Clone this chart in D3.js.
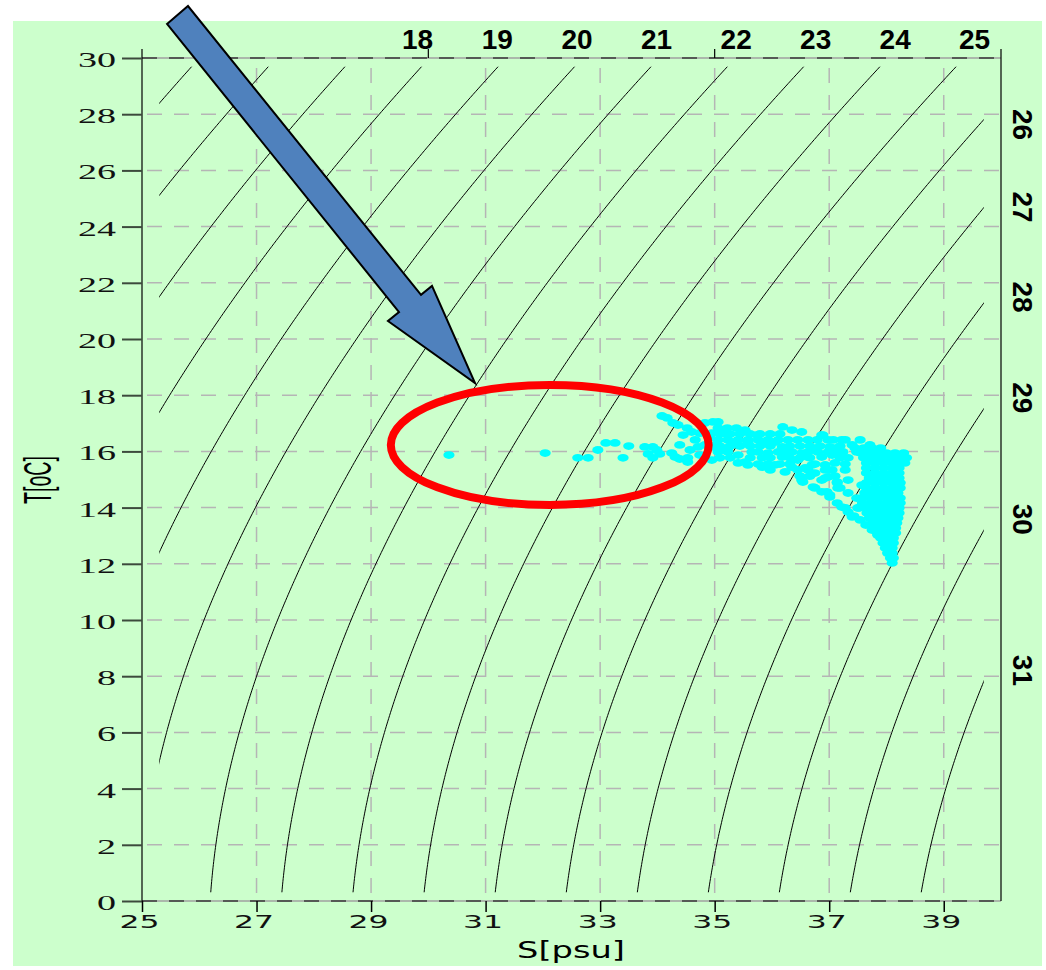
<!DOCTYPE html>
<html>
<head>
<meta charset="utf-8">
<script src="https://cdn.jsdelivr.net/npm/d3@7"></script>
<style>
  body { margin: 0; background: #fff; }
</style>
</head>
<body>
<svg id="chart" width="1046" height="970"></svg>
<script>
// axis ticks
const sTicks = [25, 27, 29, 31, 33, 35, 37, 39];
const tTicks = [0, 2, 4, 6, 8, 10, 12, 14, 16, 18, 20, 22, 24, 26, 28, 30];
const sGrid = [27, 29, 31, 33, 35, 37, 39];
const tGrid = [2, 4, 6, 8, 10, 12, 14, 16, 18, 20, 22, 24, 26, 28];
const topTicks = [30, 35];

// sigma-t isopycnals drawn in the box, and the ones that get a label
const sigmaLevels = [15, 16, 17, 18, 19, 20, 21, 22, 23, 24, 25, 26, 27, 28, 29, 30, 31];
const topLabels = [18, 19, 20, 21, 22, 23, 24, 25];
const rightLabels = [26, 27, 28, 29, 30, 31];

const samples = [
  [30.36, 15.87], [32.04, 15.94], [32.61, 15.77], [32.79, 15.77], [32.96, 16.05], [33.10, 16.30],
  [33.26, 16.30], [33.50, 16.19], [33.78, 16.16], [33.92, 16.16], [33.99, 16.05], [33.84, 15.91],
  [33.92, 15.77], [33.40, 15.77], [34.04, 15.91], [34.25, 15.94], [34.31, 15.80], [34.39, 15.73],
  [34.53, 15.77], [34.53, 15.62], [34.71, 16.16], [34.95, 16.16], [34.95, 16.65],
  [34.08, 17.26], [34.17, 17.19], [34.27, 17.01], [34.36, 16.94], [34.52, 16.83], [34.60, 16.69],
  [34.74, 16.65], [34.83, 17.01], [34.97, 17.05],
  [34.92, 16.48], [35.02, 16.23], [34.83, 15.87], [34.95, 15.69], [35.09, 15.77], [35.23, 16.12],
  [34.45, 16.58], [34.66, 16.41], [34.83, 16.23], [34.57, 16.05], [34.74, 15.87], [34.39, 16.23],
  [36.19, 16.87], [36.35, 16.76], [36.52, 16.69], [36.87, 16.58], [36.79, 16.41], [37.01, 16.16],
  [37.22, 16.41], [35.06, 17.05], [35.13, 16.76], [35.23, 16.58], [35.53, 16.76], [35.74, 16.58],
  [35.58, 16.33], [35.35, 16.30], [35.18, 16.05], [35.41, 15.87], [35.65, 15.98], [35.88, 16.30],
  [36.05, 16.33], [36.18, 16.16], [35.93, 15.94], [35.83, 15.77], [35.53, 15.62], [35.41, 15.59],
  [35.58, 15.52], [36.18, 15.80], [36.35, 15.98], [36.52, 15.94], [36.45, 15.69], [36.63, 15.80],
  [36.75, 16.05], [36.87, 15.80], [37.05, 15.87], [37.10, 15.59], [36.93, 15.52], [36.70, 15.52],
  [36.58, 15.41], [36.35, 15.44], [36.23, 15.27], [36.05, 15.52], [35.83, 15.44], [36.75, 15.23],
  [36.87, 14.98], [36.98, 15.09], [37.14, 14.91], [36.54, 14.91], [36.75, 14.70], [36.87, 14.56],
  [37.01, 14.45], [37.19, 14.70], [36.52, 14.98], [36.72, 14.73],
  [35.06, 16.83], [35.22, 16.83], [35.38, 16.83],
  [35.09, 16.62], [35.27, 16.62], [35.44, 16.62], [35.62, 16.62], [35.79, 16.62], [35.97, 16.62],
  [36.14, 16.62],
  [35.06, 16.41], [35.23, 16.41], [35.41, 16.41], [35.58, 16.41], [35.76, 16.41], [35.93, 16.41],
  [36.11, 16.41], [36.28, 16.41], [36.45, 16.41], [36.63, 16.41], [36.98, 16.41],
  [35.09, 16.19], [35.27, 16.19], [35.44, 16.19], [35.62, 16.19], [35.79, 16.19], [35.97, 16.19],
  [36.31, 16.19], [36.49, 16.19], [36.66, 16.19], [36.84, 16.19], [37.19, 16.19],
  [35.06, 15.98], [35.23, 15.98], [35.76, 15.98], [36.11, 15.98], [36.28, 15.98], [36.63, 15.98],
  [36.80, 15.98], [36.98, 15.98], [37.15, 15.98],
  [35.27, 15.77], [35.62, 15.77], [35.97, 15.77], [36.31, 15.77], [36.49, 15.77], [36.66, 15.77],
  [37.19, 15.77], [37.33, 15.77],
  [35.76, 15.55], [35.93, 15.55], [36.14, 15.55], [36.31, 15.55], [36.75, 15.55], [37.28, 15.55],
  [35.97, 15.34], [36.45, 15.34], [36.63, 15.34], [36.93, 15.34], [37.05, 15.34], [37.28, 15.34],
  [36.49, 15.12], [36.66, 15.12], [37.10, 15.12],
  [37.54, 16.41], [37.71, 16.23],
  [36.89, 16.58], [37.07, 16.41], [37.28, 16.41], [37.40, 16.23], [37.07, 16.12], [37.24, 15.98],
  [37.48, 15.98], [37.76, 16.05], [38.01, 15.80], [38.18, 15.69], [38.32, 15.59],
  [36.93, 15.05], [37.14, 14.88], [37.33, 14.98], [36.96, 14.56], [37.15, 14.70], [37.33, 14.52],
  [37.57, 14.80], [37.01, 14.38], [37.48, 14.34], [37.14, 14.16], [37.28, 13.99], [37.50, 13.99],
  [37.40, 13.67], [37.66, 13.81],
  [37.22, 14.02], [37.33, 13.84], [37.43, 13.70], [37.54, 13.56], [37.64, 13.38], [37.75, 13.20],
  [37.85, 13.02],
  [37.45, 16.12], [37.60, 16.12], [37.75, 16.12], [37.90, 16.12],
  [37.55, 15.94], [37.70, 15.94], [37.85, 15.94], [38.00, 15.94], [38.15, 15.94], [38.30, 15.94],
  [37.60, 15.77], [37.75, 15.77], [37.90, 15.77], [38.05, 15.77], [38.20, 15.77], [38.35, 15.77],
  [37.65, 15.59], [37.80, 15.59], [37.95, 15.59], [38.10, 15.59], [38.25, 15.59],
  [37.65, 15.41], [37.80, 15.41], [37.95, 15.41], [38.10, 15.41], [38.22, 15.41],
  [37.65, 15.23], [37.80, 15.23], [37.95, 15.23], [38.10, 15.23], [38.22, 15.23],
  [37.70, 15.05], [37.85, 15.05], [38.00, 15.05], [38.12, 15.05], [38.22, 15.05],
  [37.65, 14.88], [37.80, 14.88], [37.95, 14.88], [38.10, 14.88], [38.24, 14.88],
  [37.65, 14.70], [37.80, 14.70], [37.95, 14.70], [38.10, 14.70], [38.24, 14.70],
  [37.62, 14.52], [37.76, 14.52], [37.90, 14.52], [38.05, 14.52], [38.20, 14.52],
  [37.58, 14.34], [37.72, 14.34], [37.86, 14.34], [38.00, 14.34], [38.12, 14.34], [38.24, 14.34],
  [37.58, 14.16], [37.72, 14.16], [37.86, 14.16], [38.00, 14.16], [38.12, 14.16], [38.24, 14.16],
  [37.52, 13.99], [37.66, 13.99], [37.80, 13.99], [37.94, 13.99], [38.08, 13.99], [38.22, 13.99],
  [37.80, 13.81], [37.94, 13.81], [38.08, 13.81], [38.22, 13.81],
  [37.70, 13.63], [37.84, 13.63], [37.98, 13.63], [38.10, 13.63], [38.20, 13.63],
  [37.76, 13.45], [37.90, 13.45], [38.04, 13.45], [38.18, 13.45],
  [37.80, 13.27], [37.94, 13.27], [38.06, 13.27], [38.16, 13.27],
  [37.84, 13.10], [37.97, 13.10], [38.08, 13.10], [38.16, 13.10],
  [37.90, 12.92], [38.02, 12.92], [38.12, 12.92],
  [37.94, 12.74], [38.05, 12.74], [38.12, 12.74],
  [37.98, 12.56], [38.10, 12.56],
  [38.02, 12.38], [38.10, 12.38],
  [38.07, 12.21], [38.12, 12.21],
  [38.10, 12.03]
];

// annotations, in data units
const arrowS = [25.437, 25.803, 29.872, 30.064, 30.815, 29.295, 29.488];
const arrowT = [31.21, 31.85, 21.57, 21.89, 18.43, 20.64, 20.96];
const ringCenter = [32.12, 16.23];
const ringRadii = [2.775, 2.135];

const svg = d3.select("#chart");
const x = d3.scaleLinear([25, 40], [142, 1001]);
const y = d3.scaleLinear([0, 30], [901, 58]);

// UNESCO 1981 density at the surface, minus 1000
function sigmaT(S, T) {
  const rw = 999.842594 + 6.793952e-2 * T - 9.095290e-3 * T * T + 1.001685e-4 * T ** 3
    - 1.120083e-6 * T ** 4 + 6.536332e-9 * T ** 5;
  const A = 8.24493e-1 - 4.0899e-3 * T + 7.6438e-5 * T * T - 8.2467e-7 * T ** 3 + 5.3875e-9 * T ** 4;
  const B = -5.72466e-3 + 1.0227e-4 * T - 1.6546e-6 * T * T;
  const C = 4.8314e-4;
  return rw + A * S + B * S ** 1.5 + C * S * S - 1000;
}
function solve(f, lo, hi) {
  for (let i = 0; i < 60; i++) {
    const mid = (lo + hi) / 2;
    if (f(lo) * f(mid) <= 0) hi = mid; else lo = mid;
  }
  return (lo + hi) / 2;
}
const salinityAt = (sig, T) => solve(S => sigmaT(S, T) - sig, 0, 60);
const tempAt = (sig, S) => solve(T => sigmaT(S, T) - sig, -5, 45);

// background
svg.append("rect").attr("x", 13).attr("y", 21).attr("width", 1029).attr("height", 945)
  .attr("fill", "#ccffcc");

// grid
const grid = svg.append("g").attr("stroke", "#b5b5b5").attr("stroke-width", 1.5)
  .attr("stroke-dasharray", "15,12");
grid.selectAll("line.v").data(sGrid).join("line").attr("class", "v")
  .attr("x1", d => x(d)).attr("x2", d => x(d)).attr("y1", y(30) + 10).attr("y2", y(0));
grid.selectAll("line.h").data(tGrid).join("line").attr("class", "h")
  .attr("x1", x(25) + 5).attr("x2", x(40)).attr("y1", d => y(d)).attr("y2", d => y(d));

// top and bottom borders: grey line with dark dashes
[30, 0].forEach(t => {
  svg.append("line").attr("x1", x(25)).attr("x2", x(40)).attr("y1", y(t)).attr("y2", y(t))
    .attr("stroke", "#a0a0a0").attr("stroke-width", 1.5);
  svg.append("line").attr("x1", x(25)).attr("x2", x(40)).attr("y1", y(t)).attr("y2", y(t))
    .attr("stroke", "#3a3a3a").attr("stroke-width", 1.5).attr("stroke-dasharray", "15,12");
});
// left and right borders
[25, 40].forEach(s => {
  svg.append("line").attr("x1", x(s)).attr("x2", x(s)).attr("y1", y(30) - 9).attr("y2", y(0))
    .attr("stroke", "#000").attr("stroke-width", 1.2);
});

// isopycnals
const box = { s0: 25.3, s1: 39.7, t0: 0.3, t1: 29.7 };
svg.append("clipPath").attr("id", "box").append("rect")
  .attr("x", x(box.s0)).attr("y", y(box.t1))
  .attr("width", x(box.s1) - x(box.s0)).attr("height", y(box.t0) - y(box.t1));
const temps = d3.range(box.t0, box.t1 + 0.001, 0.1);
const line = d3.line().x(d => x(d[0])).y(d => y(d[1]));
svg.append("g").attr("clip-path", "url(#box)")
  .selectAll("path").data(sigmaLevels).join("path")
  .attr("d", sig => line(temps.map(t => [salinityAt(sig, t), t])))
  .attr("fill", "none").attr("stroke", "#000").attr("stroke-width", 1);

// isopycnal labels
svg.append("g").selectAll("text").data(topLabels).join("text")
  .attr("x", sig => x(salinityAt(sig, box.t1)) + (sig - 19) * 3.2 - 1)
  .attr("y", 49)
  .attr("text-anchor", "middle")
  .attr("font-family", "Liberation Sans, Arial, sans-serif").attr("font-weight", "bold")
  .attr("font-size", 28).text(d => d);
const nudge = sig => Math.max(-11, 5 - 5.5 * (sig - 26));
svg.append("g").selectAll("text").data(rightLabels).join("text")
  .attr("transform", sig => `translate(1013,${y(tempAt(sig, box.s1)) + nudge(sig)}) rotate(90)`)
  .attr("text-anchor", "middle")
  .attr("font-family", "Liberation Sans, Arial, sans-serif").attr("font-weight", "bold")
  .attr("font-size", 28).text(d => d);

// left axis
const yAxis = svg.append("g").attr("transform", `translate(${x(25)},0)`)
  .call(d3.axisLeft(y).tickValues(tTicks).tickSize(20).tickPadding(6));
yAxis.select(".domain").remove();
yAxis.selectAll(".tick line").attr("stroke", "#3c4a3c").attr("stroke-width", 2);
yAxis.selectAll(".tick text")
  .attr("font-family", "Liberation Serif, Times New Roman, serif").attr("font-size", 21)
  .attr("fill", "#111").attr("dy", "0.4em")
  .attr("textLength", d => String(d).length * 19).attr("lengthAdjust", "spacingAndGlyphs");

// bottom axis
const xAxis = svg.append("g").attr("transform", `translate(0,${y(0)})`)
  .call(d3.axisBottom(x).tickValues(sTicks).tickSize(11).tickPadding(4));
xAxis.select(".domain").remove();
xAxis.selectAll(".tick line").attr("stroke", "#000").attr("stroke-width", 1.5);
xAxis.selectAll(".tick text")
  .attr("font-family", "DejaVu Sans, Verdana, sans-serif").attr("font-size", 17)
  .attr("fill", "#111").attr("dx", -3)
  .attr("textLength", 40).attr("lengthAdjust", "spacingAndGlyphs");

// top ticks
svg.append("g").selectAll("line").data(topTicks).join("line")
  .attr("x1", d => x(d)).attr("x2", d => x(d)).attr("y1", y(30) - 9).attr("y2", y(30))
  .attr("stroke", "#000").attr("stroke-width", 1.2);

// axis titles
svg.append("text").attr("x", 571).attr("y", 958).attr("text-anchor", "middle")
  .attr("font-family", "DejaVu Sans, Verdana, sans-serif").attr("font-size", 23)
  .attr("textLength", 108).attr("lengthAdjust", "spacingAndGlyphs").text("S[psu]");
svg.append("text").attr("transform", "translate(51,480) rotate(-90)").attr("text-anchor", "middle")
  .attr("font-family", "Liberation Sans, Arial, sans-serif").attr("font-size", 38)
  .attr("textLength", 48).attr("lengthAdjust", "spacingAndGlyphs").text("T[oC]");

// observations
svg.append("g").selectAll("ellipse").data(samples).join("ellipse")
  .attr("cx", d => x(d[0])).attr("cy", d => y(d[1]))
  .attr("rx", 5.6).attr("ry", 3.9).attr("fill", "#00ffff");

// red ring
svg.append("ellipse")
  .attr("cx", x(ringCenter[0])).attr("cy", y(ringCenter[1]))
  .attr("rx", x(ringCenter[0] + ringRadii[0]) - x(ringCenter[0]))
  .attr("ry", y(ringCenter[1] - ringRadii[1]) - y(ringCenter[1]))
  .attr("fill", "none").attr("stroke", "#ff0000").attr("stroke-width", 8);

// arrow
svg.append("polygon")
  .attr("points", arrowS.map((s, i) => [x(s), y(arrowT[i])].join(",")).join(" "))
  .attr("fill", "#4f81bd").attr("stroke", "#000").attr("stroke-width", 2)
  .attr("stroke-linejoin", "miter");
</script>
</body>
</html>
